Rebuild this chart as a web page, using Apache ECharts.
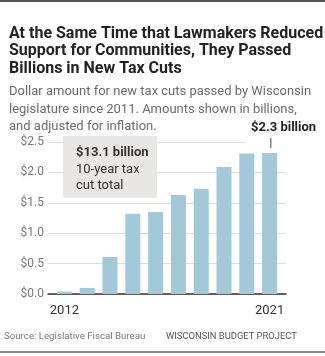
<!DOCTYPE html>
<html><head><meta charset="utf-8">
<script src="https://cdn.jsdelivr.net/npm/echarts@6/dist/echarts.min.js"></script>
<style>html,body{margin:0;padding:0;background:#fff}#c{width:325px;height:356px}</style>
</head><body><div id="c"></div>
<script>
const years = ['2012','2013','2014','2015','2016','2017','2018','2019','2020','2021'];
const taxCuts = [0.04, 0.10, 0.61, 1.32, 1.35, 1.63, 1.73, 2.09, 2.31, 2.32];
const yTicks = [0, 0.5, 1.0, 1.5, 2.0, 2.5];
const titleText = 'At the Same Time that Lawmakers Reduced\nSupport for Communities, They Passed\nBillions in New Tax Cuts';
const subText = 'Dollar amount for new tax cuts passed by Wisconsin\nlegislature since 2011. Amounts shown in billions,\nand adjusted for inflation.';
const totalLabel = '$13.1 billion';
const lastLabel = '$2.3 billion';

const F = 'Roboto, "Noto Sans", sans-serif';
const chart = echarts.init(document.getElementById('c'), null, {renderer:'canvas'});
chart.setOption({
  animation:false,
  backgroundColor:'#fff',
  title:[
    {text:titleText, left:4, top:20, textStyle:{fontFamily:F, fontSize:16, fontWeight:'bold', color:'#222', lineHeight:17.5}},
    {text:subText, left:4, top:78, textStyle:{fontFamily:F, fontSize:13, fontWeight:'normal', color:'#6b6b6b', lineHeight:17.5}}
  ],
  grid:[
    {left:48, width:238, top:142, height:152},
    {left:53, width:228, top:142, height:152}
  ],
  xAxis:[
    {type:'value', gridIndex:0, min:0, max:1, axisLine:{show:true, onZero:false, lineStyle:{color:'#333', width:1.5}}, axisTick:{show:false}, axisLabel:{show:false}, splitLine:{show:false}},
    {type:'category', gridIndex:1, data:years, axisLine:{show:false}, axisTick:{show:false}, splitLine:{show:false},
     axisLabel:{interval:0, margin:10, fontFamily:F, fontSize:13, color:'#333', formatter:function(v,i){return (i===0||i===years.length-1)?v:'';}}}
  ],
  yAxis:[
    {type:'value', gridIndex:0, min:yTicks[0], max:yTicks[yTicks.length-1], interval:0.5,
     axisLine:{show:false}, axisTick:{show:false},
     axisLabel:{margin:4, fontFamily:F, fontSize:12, color:'#777', formatter:function(v){return '$'+v.toFixed(1);}},
     splitLine:{lineStyle:{color:'#dedbd8', width:1}}},
    {type:'value', gridIndex:1, min:yTicks[0], max:yTicks[yTicks.length-1], show:false, splitLine:{show:false}}
  ],
  series:[
    {type:'bar', xAxisIndex:1, yAxisIndex:1, data:taxCuts, barWidth:15, itemStyle:{color:'#a3c8da'}, z:3}
  ],
  graphic:[
    {type:'rect', left:0, top:0, shape:{width:325, height:2}, style:{fill:'#555'}},
    {type:'rect', left:0, top:351, shape:{width:325, height:2}, style:{fill:'#8a8a8a'}},
    {type:'rect', left:63, top:136, shape:{width:94, height:62}, style:{fill:'#e8e7e5'}, z:10},
    {type:'text', left:76, top:146, style:{text:totalLabel, font:'bold 13px '+F, fill:'#333'}, z:11},
    {type:'text', left:76, top:161, style:{text:'10-year tax\ncut total', font:'13px '+F, fill:'#333', lineHeight:16.5}, z:11},
    {type:'rect', left:246, top:118, shape:{width:60, height:30}, style:{fill:'#fff'}, z:10},
    {type:'text', left:251, top:121, style:{text:lastLabel, font:'bold 13px '+F, fill:'#222'}, z:11},
    {type:'rect', left:270, top:138, shape:{width:1.5, height:10}, style:{fill:'#888'}, z:11},
    {type:'text', left:4, top:332, style:{text:'Source: Legislative Fiscal Bureau', font:'9.7px '+F, fill:'#777'}},
    {type:'text', left:166, top:332, style:{text:'WISCONSIN BUDGET PROJECT', font:'9.4px '+F, fill:'#555'}}
  ]
});
</script></body></html>
